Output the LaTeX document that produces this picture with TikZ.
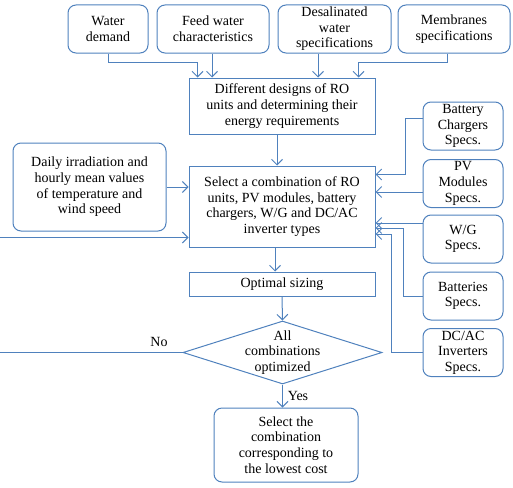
\documentclass[tikz,border=0pt]{standalone}
\usepackage{fontspec}
\setmainfont{Liberation Serif}
\usetikzlibrary{arrows.meta,shapes.geometric}
\definecolor{lc}{RGB}{79,129,189}
\begin{document}
\begin{tikzpicture}[x=1pt,y=-1pt,
  font=\fontsize{14}{15.6}\selectfont,
  base/.style={draw=lc, line width=1pt, align=center, inner sep=0pt, text=black},
  rbox/.style={base, rounded corners=8pt},
  sbox/.style={base},
  arr/.style={draw=lc, line width=1pt, -{Straight Barb[length=5.5pt,width=11pt]}},
  lbl/.style={inner sep=0pt, text=black}]
\useasboundingbox (0,0) rectangle (513,487);
% top inputs
\node[rbox, minimum width=80pt, minimum height=48pt] (wd) at (108,29) {Water\\demand};
\node[rbox, minimum width=112pt, minimum height=48pt] (fw) at (213,29) {Feed water\\characteristics};
\node[rbox, minimum width=113pt, minimum height=48pt] (dw) at (334.5,29) {Desalinated\\water\\specifications};
\node[rbox, minimum width=112pt, minimum height=48pt] (ms) at (454,29) {Membranes\\specifications};
% main column
\node[sbox, minimum width=186pt, minimum height=56pt] (ro) at (282,106) {Different designs of RO\\units and determining their\\energy requirements};
\node[sbox, minimum width=186pt, minimum height=81pt] (sel) at (282,206.5) {Select a combination of RO\\units, PV modules, battery\\chargers, W/G and DC/AC\\inverter types};
\node[rbox, minimum width=153pt, minimum height=88pt] (di) at (89.5,187) {Daily irradiation and\\hourly mean values\\of temperature and\\wind speed};
\node[sbox, minimum width=186pt, minimum height=24pt] (opt) at (282,284) {Optimal sizing};
\node[base, diamond, minimum width=199pt, minimum height=63pt] (dec) at (282.5,352.5) {};
\node[lbl, align=center] (dect) at (dec) {All\\combinations\\optimized};
\node[rbox, minimum width=144pt, minimum height=74pt] (res) at (286,445) {Select the\\combination\\corresponding to\\the lowest cost};
% right inputs
\node[rbox, minimum width=80pt, minimum height=48pt] (bc) at (463,126) {Battery\\Chargers\\Specs.};
\node[rbox, minimum width=80pt, minimum height=48pt] (pv) at (463,183.5) {PV\\Modules\\Specs.};
\node[rbox, minimum width=80pt, minimum height=48pt] (wg) at (463,239) {W/G\\Specs.};
\node[rbox, minimum width=80pt, minimum height=48pt] (bt) at (463,296) {Batteries\\Specs.};
\node[rbox, minimum width=80pt, minimum height=48pt] (dc) at (463,352.5) {DC/AC\\Inverters\\Specs.};
% labels
\node[lbl] (no) at (159,342) {No};
\node[lbl] (yes) at (298,396) {Yes};
% connectors
\draw[arr] (wd.south) -- ++(0,9) -| ([xshift=9pt]ro.north west);
\draw[arr] ([xshift=-1pt]fw.south) -- ([xshift=-1pt]fw.south |- ro.north);
\draw[arr] ([xshift=-16.5pt]dw.south) -- ([xshift=-16.5pt]dw.south |- ro.north);
\draw[arr] ([xshift=-7pt]ms.south) -- ++(0,9) -| ([xshift=-17pt]ro.north east);
\draw[arr] ([xshift=-5pt]ro.south) -- ([xshift=-5pt]ro.south |- sel.north);
\draw[arr] (di.east) -- (di.east -| sel.west);
\draw[arr] ([xshift=-7pt]sel.south) -- ([xshift=-7pt]sel.south |- opt.north);
\draw[arr] (opt.south) -- (dec.north);
\draw[arr] (dec.south) -- (dec.south |- res.north);
\draw[arr] (dec.west) -- (-1,352.5) |- ([yshift=10pt]sel.south west);
\draw[arr] ([yshift=8pt]bc.west) -- ++(-17,0) |- ([yshift=-9pt]sel.north east);
\draw[arr] ([yshift=-8.5pt]pv.west) -- ([yshift=-8.5pt]pv.west -| sel.east);
\draw[arr] ([yshift=16pt]wg.west) -- ([yshift=16pt]wg.west -| sel.east);
\draw[arr] (bt.west) -- ++(-19,0) |- ([yshift=-21.5pt]sel.east);
\draw[arr] (dc.west) -- ++(-31,0) |- ([yshift=-27.5pt]sel.east);
\end{tikzpicture}
\end{document}
